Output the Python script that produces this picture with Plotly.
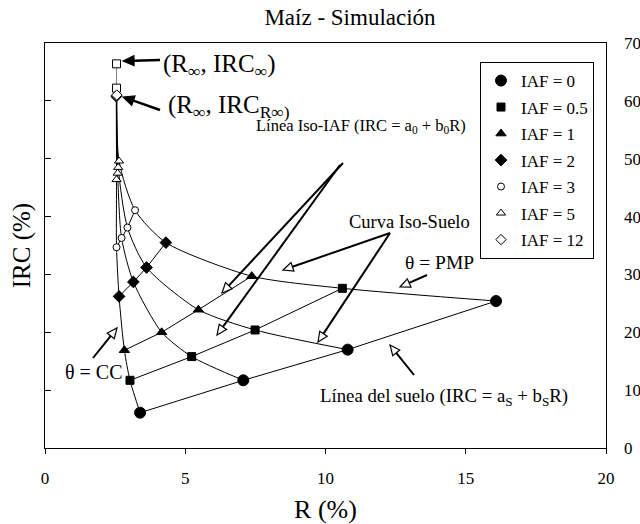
import plotly.graph_objects as go

# Leaf area index levels and the four soil-moisture states (theta = CC ... theta = PMP)
IAF_LABELS = ["IAF = 0", "IAF = 0.5", "IAF = 1", "IAF = 2", "IAF = 3", "IAF = 5", "IAF = 12"]

R_IAF0 = [3.39, 7.07, 10.79, 16.08]
IRC_IAF0 = [6.1, 11.7, 17.0, 25.4]
R_IAF05 = [3.03, 5.23, 7.49, 10.60]
IRC_IAF05 = [11.7, 15.8, 20.4, 27.6]
R_IAF1 = [2.83, 4.16, 5.47, 7.37]
IRC_IAF1 = [16.9, 20.0, 23.9, 29.7]
R_IAF2 = [2.64, 3.15, 3.62, 4.31]
IRC_IAF2 = [26.2, 28.7, 31.2, 35.5]
R_IAF3 = [2.55, 2.73, 2.94, 3.21]
IRC_IAF3 = [34.7, 36.3, 38.1, 41.1]
R_IAF5 = [2.55, 2.59, 2.61, 2.64]
IRC_IAF5 = [46.4, 47.5, 48.5, 49.6]
R_IAF12 = [2.54, 2.55, 2.55, 2.56]
IRC_IAF12 = [60.7, 60.8, 60.9, 61.0]

# Asymptotic points (R_inf, IRC_inf) and (R_inf, IRC_Rinf)
R_INF = [2.55, 2.55]
IRC_INF = [62.2, 66.4]

X_TICKS = [0, 5, 10, 15, 20]
Y_TICKS = [0, 10, 20, 30, 40, 50, 60, 70]

SERIF = "Liberation Serif"

R_SETS = [R_IAF0, R_IAF05, R_IAF1, R_IAF2, R_IAF3, R_IAF5, R_IAF12]
IRC_SETS = [IRC_IAF0, IRC_IAF05, IRC_IAF1, IRC_IAF2, IRC_IAF3, IRC_IAF5, IRC_IAF12]

# marker style per IAF level: (symbol, size, fill)
STYLES = [
    ("circle", 11, "black"),
    ("square", 8, "black"),
    ("triangle-up", 9, "black"),
    ("diamond", 9, "black"),
    ("circle", 7, "white"),
    ("triangle-up", 8, "white"),
    ("diamond", 8, "white"),
]

fig = go.Figure()

# iso-soil curves: one smooth curve per soil-moisture state across all IAF levels
for k in range(4):
    fig.add_trace(go.Scatter(
        x=[rs[k] for rs in R_SETS], y=[ys[k] for ys in IRC_SETS],
        mode="lines", line=dict(color="black", width=1, shape="spline", smoothing=0.7),
        showlegend=False, hoverinfo="skip"))

# iso-IAF straight lines
for rs, ys in zip(R_SETS, IRC_SETS):
    fig.add_trace(go.Scatter(x=rs, y=ys, mode="lines",
                             line=dict(color="black", width=1),
                             showlegend=False, hoverinfo="skip"))

# asymptote markers
fig.add_trace(go.Scatter(x=R_INF, y=IRC_INF, mode="lines+markers",
                         line=dict(color="#808080", width=1),
                         marker=dict(symbol="square", size=8, color="white",
                                     line=dict(color="black", width=1)),
                         showlegend=False, hoverinfo="skip"))

# markers (with legend entries)
for label_, rs, ys, (sym, size, fill) in zip(IAF_LABELS, R_SETS, IRC_SETS, STYLES):
    fig.add_trace(go.Scatter(x=rs, y=ys, mode="markers", name=label_, legendgroup=label_,
                             marker=dict(symbol=sym, size=size, color=fill,
                                         line=dict(color="black", width=1))))

# secondary axis carrier
fig.add_trace(go.Scatter(x=[None], y=[None], yaxis="y2", showlegend=False, hoverinfo="skip"))

# plot-area geometry in pixels
L, R_EDGE, T, B = 45, 606, 43, 448
W, H = R_EDGE - L, B - T


def to_paper(px, py):
    return (px - L) / W, (B - py) / H


shapes = []


def arrow(tail, tip, head_len=10, head_w=9, width=2, filled=False):
    tx, ty = tail
    hx, hy = tip
    dx, dy = hx - tx, hy - ty
    n = (dx * dx + dy * dy) ** 0.5
    ux, uy = dx / n, dy / n
    bx, by = hx - ux * head_len, hy - uy * head_len
    px_, py_ = -uy, ux
    lx, ly = bx + px_ * head_w / 2, by + py_ * head_w / 2
    rx, ry = bx - px_ * head_w / 2, by - py_ * head_w / 2
    a = to_paper(tx, ty)
    b = to_paper(bx, by)
    shapes.append(dict(type="line", xref="paper", yref="paper",
                       x0=a[0], y0=a[1], x1=b[0], y1=b[1],
                       line=dict(color="black", width=width)))
    p1, p2, p3 = to_paper(hx, hy), to_paper(lx, ly), to_paper(rx, ry)
    path = f"M {p1[0]},{p1[1]} L {p2[0]},{p2[1]} L {p3[0]},{p3[1]} Z"
    shapes.append(dict(type="path", xref="paper", yref="paper", path=path,
                       fillcolor="black" if filled else "white",
                       line=dict(color="black", width=1.2)))


arrow((160, 60), (123, 61), head_len=11, head_w=10, width=2.5, filled=True)
arrow((160, 110), (123, 97), head_len=11, head_w=10, width=2.5, filled=True)
arrow((343, 163), (222, 293))
arrow((340, 165), (217, 335))
arrow((390, 233), (283, 270))
arrow((390, 233), (318, 342))
arrow((427, 275), (400, 287))
arrow((414, 375), (390, 345))
arrow((93, 358), (117, 328))

annotations = []


def label(text, px, py, size, anchor="left"):
    x, y = to_paper(px, py)
    annotations.append(dict(text=text, x=x, y=y, xref="paper", yref="paper",
                            xanchor=anchor, yanchor="middle", showarrow=False,
                            font=dict(family=SERIF, size=size, color="black")))


label("(R<sub>∞</sub>, IRC<sub>∞</sub>)", 161, 65, 25)
label("(R<sub>∞</sub>, IRC<sub>R∞)</sub>", 166, 106, 25)
label("Línea Iso-IAF (IRC = a<sub>0</sub> + b<sub>0</sub>R)", 254, 126, 16.5)
label("Curva Iso-Suelo", 347, 222, 18.5)
label("θ = PMP", 403, 262, 19.5)
label("Línea del suelo (IRC = a<sub>S</sub> + b<sub>S</sub>R)", 318, 397, 18.8)
label("θ = CC", 63, 372, 20)

fig.update_layout(
    width=640, height=524,
    margin=dict(l=L, r=640 - R_EDGE, t=T, b=524 - B, autoexpand=False),
    paper_bgcolor="white", plot_bgcolor="white",
    font=dict(family=SERIF, color="black", size=17),
    title=dict(text="Maíz - Simulación", x=(350 - L) / W, xref="paper", xanchor="center",
               y=1 - 17 / 524, yanchor="middle", font=dict(family=SERIF, size=23),
               automargin=False),
    xaxis=dict(range=[0, 20], tickvals=X_TICKS, ticks="outside", ticklen=5,
               tickcolor="black", showline=True, linecolor="black", linewidth=1,
               mirror=True, showgrid=False, zeroline=False, automargin=False,
               tickfont=dict(family=SERIF, size=17), ticklabelstandoff=10,
               title=dict(text="R (%)", font=dict(family=SERIF, size=26), standoff=18)),
    yaxis=dict(range=[0, 70], tickvals=Y_TICKS, ticks="inside", ticklen=6,
               tickcolor="black", showticklabels=False, showline=True,
               linecolor="black", linewidth=1, mirror=True, showgrid=False,
               zeroline=False, automargin=False,
               title=dict(text="IRC (%)", font=dict(family=SERIF, size=25), standoff=6)),
    yaxis2=dict(range=[0, 70], tickvals=Y_TICKS, overlaying="y", side="right",
                ticks="", showline=False, showgrid=False, zeroline=False,
                automargin=False,
                tickfont=dict(family=SERIF, size=17), ticklabelstandoff=17),
    legend=dict(x=(594 - L) / W, y=(B - 62) / H, xanchor="right", yanchor="top",
                bgcolor="white", bordercolor="black", borderwidth=1,
                font=dict(family=SERIF, size=17), itemwidth=30,
                tracegroupgap=1.4),
    shapes=shapes,
    annotations=annotations,
    showlegend=True,
)

fig.write_html("out.html")
